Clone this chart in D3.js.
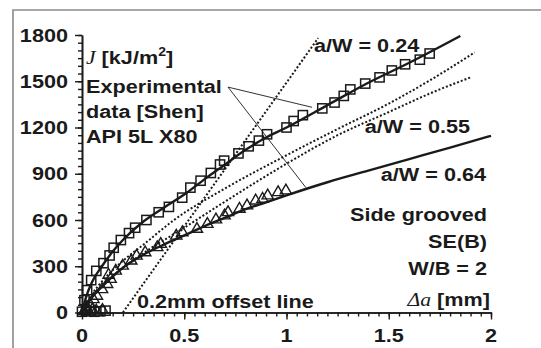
<!DOCTYPE html>
<html>
<head>
<meta charset="utf-8">
<script src="https://cdn.jsdelivr.net/npm/d3@7"></script>
<style>
  body { margin: 0; background: #fff; }
  svg text { font-family: "Liberation Sans", Arial, sans-serif; font-weight: bold; fill: #1a1a1a; }
</style>
</head>
<body>
<svg id="chart" width="541" height="348"></svg>
<script>
// data (Δa in mm, J in kJ/m²)
const squares = [
  [0.00, 5], [0.02, 12], [0.04, 8], [0.06, 5], [0.09, 8], [0.115, 12],
  [0.012, 80], [0.025, 145], [0.045, 210], [0.07, 270], [0.105, 320], [0.135, 370],
  [0.155, 420], [0.19, 470], [0.23, 515], [0.26, 550], [0.315, 600], [0.375, 650],
  [0.425, 685], [0.49, 745], [0.53, 810], [0.58, 855], [0.63, 905], [0.675, 960],
  [0.695, 985], [0.765, 1032], [0.815, 1078], [0.865, 1115], [0.905, 1156], [1.0, 1200],
  [1.035, 1242], [1.08, 1280], [1.175, 1324], [1.235, 1362], [1.28, 1405], [1.312, 1447],
  [1.385, 1485], [1.455, 1525], [1.515, 1570], [1.58, 1610], [1.652, 1640], [1.70, 1680]
];
const triangles = [
  [0.01, 5], [0.03, 10], [0.05, 15], [0.07, 8], [0.1, 12],
  [0.022, 28], [0.039, 50], [0.056, 82], [0.073, 104], [0.098, 147], [0.123, 180],
  [0.14, 213], [0.13, 240], [0.165, 267], [0.199, 299], [0.241, 332], [0.267, 364],
  [0.309, 386], [0.368, 419], [0.385, 440], [0.461, 494], [0.491, 516], [0.562, 538],
  [0.613, 570], [0.655, 599], [0.697, 625], [0.714, 646], [0.77, 668], [0.807, 690],
  [0.849, 722], [0.883, 733], [0.908, 755], [0.959, 776], [0.997, 787]
];
// solid fits
const fit024 = [
  [0, 0], [0.02, 100], [0.05, 200], [0.1, 305], [0.15, 395], [0.2, 470], [0.3, 590],
  [0.4, 680], [0.5, 765], [0.6, 865], [0.7, 960], [0.8, 1055], [0.9, 1135], [1.0, 1200],
  [1.2, 1345], [1.4, 1490], [1.6, 1620], [1.85, 1794]
];
const fit064 = [
  [0, 0], [0.05, 100], [0.1, 170], [0.2, 290], [0.3, 375], [0.4, 440], [0.5, 500],
  [0.6, 560], [0.7, 615], [0.8, 670], [0.9, 715], [1.0, 760], [1.2, 845], [1.4, 920],
  [1.6, 995], [1.8, 1070], [2.0, 1146]
];
// dotted curves
const dotA = [
  [0, 0], [0.05, 120], [0.1, 205], [0.2, 335], [0.3, 440], [0.45, 600], [0.7, 805],
  [1.0, 1020], [1.25, 1190], [1.5, 1355], [1.7, 1505], [1.92, 1687]
];
const dotB = [
  [0, 0], [0.05, 100], [0.1, 175], [0.2, 290], [0.3, 385], [0.5, 550], [0.7, 720],
  [1.0, 965], [1.25, 1150], [1.5, 1300], [1.7, 1420], [1.9, 1525]
];
const offsetLine = [[0.2, 0], [1.155, 1780]];
// leader lines from the "Experimental" label
const leaderFrom = [0.714, 1462];
const leaderTo = [[1.125, 1331], [1.095, 810]];

const xTicks = [0, 0.5, 1, 1.5, 2];
const xTickLabels = ["0", "0.5", "1", "1.5", "2"];
const yTicks = [0, 300, 600, 900, 1200, 1500, 1800];

const svg = d3.select("#chart");
const x = d3.scaleLinear().domain([0, 2]).range([82, 491]);
const y = d3.scaleLinear().domain([0, 1800]).range([312.5, 35]);
const sx = 1.17; // text in the picture is a bit stretched horizontally

// frame
svg.append("path").attr("d", "M13,348V10H541")
  .attr("fill", "none").attr("stroke", "#8a8a8a").attr("stroke-width", 1.6);

function label(px, py, str, anchor) {
  return svg.append("text")
    .attr("transform", `translate(${px},${py}) scale(${sx},1)`)
    .attr("text-anchor", anchor || "start")
    .attr("font-size", 18.5)
    .text(str);
}

// axes
const axStyle = g => {
  g.select(".domain").attr("stroke", "#1a1a1a").attr("stroke-width", 1.6);
  g.selectAll(".tick line").attr("stroke", "#1a1a1a").attr("stroke-width", 1.4);
  g.selectAll("text").remove();
};
svg.append("g").attr("transform", `translate(${x(0)},0)`)
  .call(d3.axisLeft(y).tickValues(d3.range(0, 1801, 50)).tickSize(4).tickSizeOuter(0))
  .call(axStyle);
svg.append("g").attr("transform", `translate(${x(0)},0)`)
  .call(d3.axisLeft(y).tickValues(yTicks).tickSize(7).tickSizeOuter(0))
  .call(axStyle);
svg.append("g").attr("transform", `translate(0,${y(0)})`)
  .call(d3.axisBottom(x.copy().domain([-0.02, 2]).range([x(-0.02), x(2)]))
    .tickValues(d3.range(0, 2.001, 0.05)).tickSize(4).tickSizeOuter(0))
  .call(axStyle);
svg.append("g").attr("transform", `translate(0,${y(0)})`)
  .call(d3.axisBottom(x).tickValues(xTicks).tickSize(7).tickSizeOuter(0))
  .call(axStyle);

yTicks.forEach(v => label(68, y(v) + 6.6, String(v), "end"));
xTicks.forEach((v, i) => label(x(v), 342, xTickLabels[i], "middle"));

// curves
const line = d3.line().x(d => x(d[0])).y(d => y(d[1])).curve(d3.curveMonotoneX);
const lin = d3.line().x(d => x(d[0])).y(d => y(d[1]));
[dotA, dotB].forEach(c => svg.append("path").attr("d", line(c))
  .attr("fill", "none").attr("stroke", "#1a1a1a").attr("stroke-width", 2)
  .attr("stroke-dasharray", "2,2"));
svg.append("path").attr("d", lin(offsetLine))
  .attr("fill", "none").attr("stroke", "#1a1a1a").attr("stroke-width", 2)
  .attr("stroke-dasharray", "2,2");

// markers
svg.append("g").selectAll("rect").data(squares).join("rect")
  .attr("x", d => x(d[0]) - 4.6).attr("y", d => y(d[1]) - 4.6)
  .attr("width", 9.2).attr("height", 9.2)
  .attr("fill", "none").attr("stroke", "#1a1a1a").attr("stroke-width", 1.5);
const tri = d3.symbol().type(d3.symbolTriangle).size(55);
svg.append("g").selectAll("path").data(triangles).join("path")
  .attr("transform", d => `translate(${x(d[0])},${y(d[1]) - 0.5})`)
  .attr("d", tri)
  .attr("fill", "none").attr("stroke", "#1a1a1a").attr("stroke-width", 1.4);

[fit024, fit064].forEach(c => svg.append("path").attr("d", line(c))
  .attr("fill", "none").attr("stroke", "#1a1a1a").attr("stroke-width", 2.4));

// leader lines
leaderTo.forEach(t => svg.append("line")
  .attr("x1", x(leaderFrom[0])).attr("y1", y(leaderFrom[1]))
  .attr("x2", x(t[0])).attr("y2", y(t[1]))
  .attr("stroke", "#1a1a1a").attr("stroke-width", 0.9));

// labels
const jl = label(86, 64, "");
jl.append("tspan").attr("font-family", "Liberation Serif, serif").attr("font-style", "italic")
  .attr("font-weight", "normal").text("J");
jl.append("tspan").text(" [kJ/m");
jl.append("tspan").attr("font-size", 12).attr("dy", -8).text("2");
jl.append("tspan").attr("dy", 8).text("]");

label(86, 93, "Experimental");
label(86, 118, "data [Shen]");
label(86, 143, "API 5L X80");
label(314, 52, "a/W = 0.24");
label(470, 133, "a/W = 0.55", "end");
label(486, 181, "a/W = 0.64", "end");
label(487, 221, "Side grooved", "end");
label(487, 248, "SE(B)", "end");
label(487, 275, "W/B = 2", "end");
label(137, 308, "0.2mm offset line");
const da = label(490, 306, "", "end");
da.append("tspan").attr("font-family", "Liberation Serif, serif").attr("font-style", "italic")
  .attr("font-weight", "normal").text("Δa");
da.append("tspan").text(" [mm]");
</script>
</body>
</html>
